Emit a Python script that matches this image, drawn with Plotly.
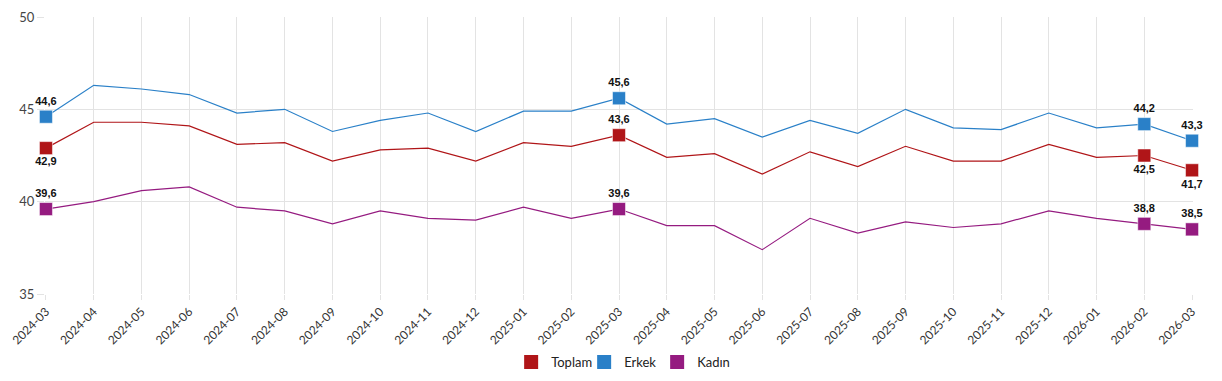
import plotly.graph_objects as go

months = ["2024-03","2024-04","2024-05","2024-06","2024-07","2024-08","2024-09","2024-10","2024-11","2024-12",
          "2025-01","2025-02","2025-03","2025-04","2025-05","2025-06","2025-07","2025-08","2025-09","2025-10",
          "2025-11","2025-12","2026-01","2026-02","2026-03"]
toplam = [42.9,44.3,44.3,44.1,43.1,43.2,42.2,42.8,42.9,42.2,43.2,43.0,43.6,42.4,42.6,41.5,42.7,41.9,43.0,42.2,42.2,43.1,42.4,42.5,41.7]
erkek = [44.6,46.3,46.1,45.8,44.8,45.0,43.8,44.4,44.8,43.8,44.9,44.9,45.6,44.2,44.5,43.5,44.4,43.7,45.0,44.0,43.9,44.8,44.0,44.2,43.3]
kadin = [39.6,40.0,40.6,40.8,39.7,39.5,38.8,39.5,39.1,39.0,39.7,39.1,39.6,38.7,38.7,37.4,39.1,38.3,38.9,38.6,38.8,39.5,39.1,38.8,38.5]
highlight_idx = [0, 12, 23, 24]

series = [
    ("Toplam", toplam, "#b01518", ["bottom center", "top center", "bottom center", "bottom center"]),
    ("Erkek", erkek, "#2a80c8", ["top center"] * 4),
    ("Kadın", kadin, "#951b80", ["top center"] * 4),
]

fig = go.Figure()
for name, vals, color, positions in series:
    fig.add_trace(go.Scatter(
        x=months, y=vals, mode="lines", name=name, showlegend=False,
        line=dict(color=color, width=1.2), hoverinfo="x+y"))
    fig.add_trace(go.Scatter(
        x=[months[i] for i in highlight_idx], y=[vals[i] for i in highlight_idx],
        mode="markers+text", showlegend=False,
        marker=dict(symbol="square", size=13, color=color, line=dict(color="rgba(255,255,255,0.5)", width=1)),
        text=[f"{vals[i]:.1f}".replace(".", ",") for i in highlight_idx],
        textposition=positions,
        textfont=dict(family="Liberation Sans, Arial", size=11, color="#111111", weight="bold"),
        cliponaxis=False, hoverinfo="skip"))
    fig.add_trace(go.Scatter(
        x=[None], y=[None], mode="markers", name=name,
        marker=dict(symbol="square", size=14, color=color)))

fig.update_layout(
    width=1206, height=365,
    margin=dict(l=37, r=21, t=9, b=79, autoexpand=False),
    plot_bgcolor="white", paper_bgcolor="white",
    font=dict(family="Lato, Open Sans, sans-serif", size=12, color="#333333"),
    legend=dict(orientation="h", x=0.508, xanchor="center", xref="container",
                y=0.03, yanchor="middle", yref="container",
                font=dict(size=13, color="#222222"), itemwidth=30, entrywidth=28,
                entrywidthmode="pixels", traceorder="normal"),
    showlegend=True,
)
fig.update_xaxes(type="category", tickangle=-45, showgrid=True, gridcolor="#e3e3e3", gridwidth=1,
                 showline=False, ticks="outside", ticklen=5, tickcolor="#e3e3e3", automargin=False,
                 tickfont=dict(size=12, color="#333333"), range=[-0.02, 24.02])
fig.update_yaxes(range=[35, 50], dtick=5, showgrid=True, gridcolor="#e3e3e3", gridwidth=1,
                 zeroline=False, showline=False, ticks="outside", ticklen=7, tickcolor="#e3e3e3",
                 automargin=False, tickfont=dict(size=13, color="#444444"))

fig.write_html("out.html")
